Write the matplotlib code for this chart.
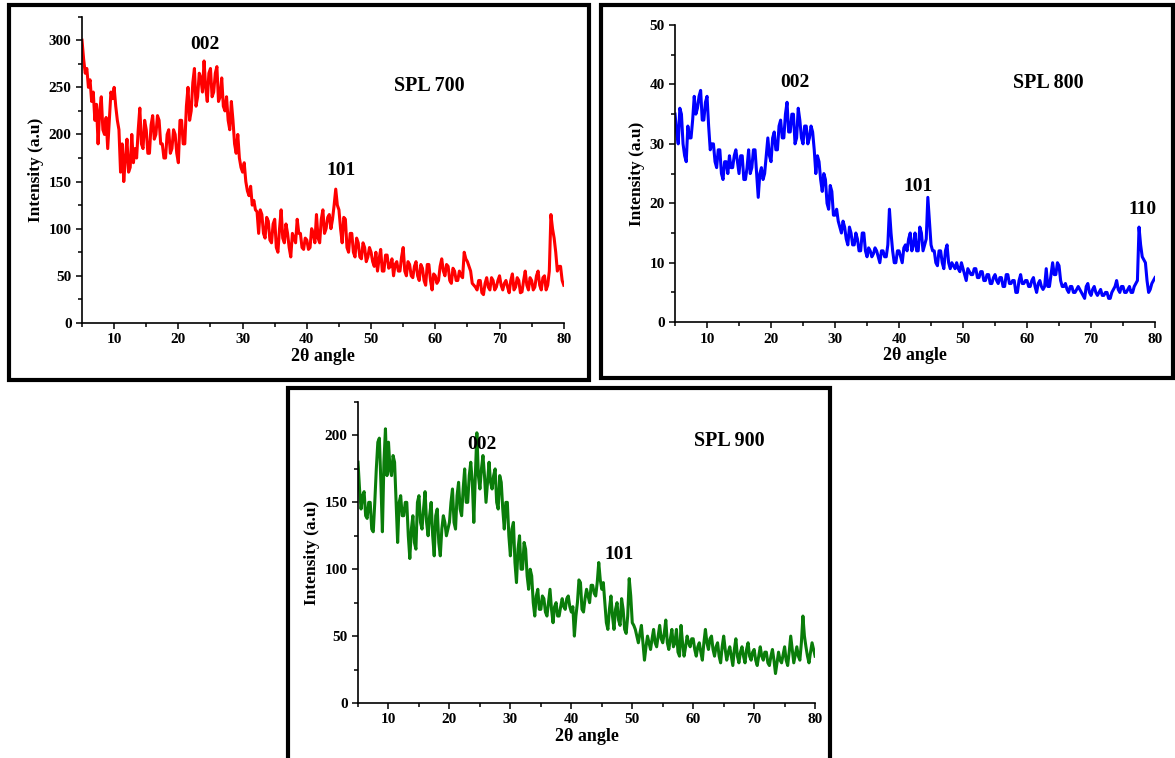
import numpy as np
import matplotlib
matplotlib.use("Agg")
import matplotlib.pyplot as plt
from matplotlib.patches import Rectangle
from matplotlib.ticker import MultipleLocator

plt.rcParams['font.family'] = ['Liberation Serif', 'DejaVu Serif']
plt.rcParams['font.weight'] = 'bold'

# intensidades lidas a cada 0.25 graus (5 -> 80), uma linha = 5 graus
spl700 = [300, 280, 265, 270, 250, 258, 235, 245, 215, 232, 190, 225, 240, 205, 200, 218, 185, 215, 245, 238,
          250, 230, 215, 205, 160, 190, 150, 175, 195, 160, 165, 200, 170, 185, 175, 205, 228, 190, 185, 215,
          205, 180, 180, 210, 220, 195, 200, 220, 215, 190, 190, 175, 175, 200, 205, 180, 185, 205, 200, 180,
          170, 215, 215, 190, 190, 230, 250, 215, 225, 255, 270, 230, 240, 265, 260, 245, 278, 250, 235, 265,
          270, 240, 245, 265, 272, 235, 240, 260, 230, 225, 240, 215, 205, 235, 215, 190, 180, 200, 175, 165,
          160, 170, 150, 140, 135, 145, 125, 130, 120, 118, 95, 120, 115, 95, 90, 112, 108, 88, 85, 105,
          110, 80, 75, 100, 120, 90, 85, 105, 95, 80, 70, 95, 90, 85, 110, 95, 95, 80, 78, 90,
          88, 78, 80, 100, 95, 85, 115, 90, 85, 110, 120, 95, 100, 112, 115, 100, 110, 125, 142, 125,
          120, 100, 85, 112, 110, 80, 75, 95, 95, 75, 70, 90, 85, 70, 68, 85, 80, 65, 70, 80,
          75, 65, 60, 75, 55, 68, 78, 55, 55, 72, 72, 58, 60, 68, 50, 62, 65, 55, 55, 70,
          80, 55, 50, 65, 62, 50, 48, 60, 65, 50, 45, 62, 58, 45, 40, 62, 62, 45, 35, 52,
          50, 42, 45, 60, 68, 55, 50, 62, 60, 45, 42, 58, 55, 45, 45, 55, 50, 48, 75, 68,
          65, 60, 55, 42, 40, 38, 35, 45, 45, 32, 30, 42, 48, 38, 35, 48, 45, 35, 38, 45,
          50, 40, 35, 42, 45, 38, 32, 45, 52, 35, 38, 48, 45, 32, 33, 45, 55, 40, 35, 48,
          45, 35, 38, 50, 55, 40, 35, 48, 50, 35, 40, 55, 115, 100, 90, 75, 55, 60, 60, 45,
          40]

spl800 = [35, 32, 30, 36, 35, 30, 28, 27, 33, 31, 31, 34, 38, 35, 36, 38, 39, 34, 34, 37,
          38, 33, 29, 30, 30, 27, 26, 29, 29, 25, 24, 27, 27, 25, 28, 26, 26, 28, 29, 27,
          25, 28, 28, 24, 24, 26, 29, 25, 26, 29, 29, 25, 21, 25, 26, 24, 25, 28, 31, 28,
          27, 31, 32, 29, 29, 33, 34, 31, 31, 35, 37, 32, 32, 35, 35, 30, 31, 36, 34, 31,
          30, 33, 33, 30, 31, 33, 32, 29, 25, 28, 27, 24, 22, 25, 24, 20, 19, 23, 22, 18,
          18, 19, 17, 16, 15, 17, 16, 14, 13, 16, 15, 13, 13, 15, 14, 12, 12, 15, 15, 12,
          11, 12.5, 12, 11, 11.5, 12.5, 12, 11, 10, 12, 12, 11, 11, 13, 19, 15, 12, 10, 10, 12,
          12, 11, 10, 12.5, 13, 12, 14, 15, 12, 13, 15, 12, 12, 16, 15, 12, 13, 14, 21, 17,
          13, 12, 12, 10, 9.5, 12, 12, 10, 9, 12, 13, 10, 9, 10, 9.5, 9, 10, 9, 8.5, 10,
          9, 8, 7, 9, 8.5, 8, 8, 9, 9, 7.5, 7.5, 8.5, 8.5, 7, 7, 8, 8, 6.5, 6.5, 7.5,
          8, 7, 6.5, 7.5, 7.5, 6, 6, 8, 8, 6.5, 6.5, 7, 7, 5, 5, 7, 8, 6.5, 6.5, 7,
          7, 6, 6, 7, 7.5, 6, 5, 6.5, 7, 6, 5.5, 6, 9, 6, 6, 8, 10, 8, 8, 10,
          9.5, 7, 6, 6, 6.5, 5.5, 5, 6, 6, 5, 5, 5.5, 6, 5.5, 5, 4.5, 4, 6, 6.5, 5,
          4.5, 5.5, 6, 5, 4.5, 5, 5.5, 4.5, 4.5, 5, 5, 4, 4, 5, 5.5, 6, 7, 5.5, 5, 6,
          6, 5, 5, 5.5, 6, 5, 5, 6, 6.5, 7, 16, 13, 11, 10.5, 10, 7, 5, 5.5, 6.5, 7,
          7.5]

spl900 = [180, 160, 145, 155, 158, 140, 138, 150, 150, 130, 128, 150, 175, 195, 198, 165, 128, 180, 205, 170,
          195, 175, 170, 185, 180, 150, 120, 150, 155, 140, 140, 150, 150, 125, 108, 130, 140, 120, 115, 150,
          155, 135, 130, 145, 158, 135, 125, 140, 150, 125, 110, 140, 145, 120, 110, 130, 140, 135, 125, 130,
          135, 150, 160, 135, 130, 155, 165, 145, 140, 160, 175, 150, 150, 170, 180, 165, 135, 170, 202, 170,
          160, 175, 185, 170, 150, 165, 180, 165, 160, 170, 175, 150, 145, 170, 165, 145, 130, 150, 150, 125,
          110, 130, 135, 105, 90, 115, 125, 100, 100, 120, 115, 95, 85, 100, 95, 75, 65, 80, 85, 70,
          70, 80, 78, 68, 65, 75, 85, 70, 60, 72, 75, 65, 65, 72, 78, 72, 70, 78, 80, 72,
          68, 72, 50, 65, 75, 92, 90, 70, 68, 78, 85, 80, 75, 88, 88, 82, 80, 90, 105, 92,
          85, 90, 75, 60, 55, 70, 80, 65, 55, 70, 75, 62, 58, 78, 70, 55, 52, 65, 93, 80,
          60, 58, 55, 50, 45, 52, 58, 45, 32, 42, 50, 45, 40, 48, 55, 45, 42, 50, 58, 48,
          45, 52, 62, 45, 40, 48, 55, 42, 45, 55, 38, 35, 58, 45, 35, 42, 50, 45, 42, 48,
          48, 40, 35, 42, 45, 38, 32, 45, 55, 45, 40, 48, 50, 40, 35, 42, 45, 35, 30, 42,
          50, 40, 32, 38, 42, 35, 28, 40, 48, 35, 30, 38, 42, 35, 30, 40, 45, 35, 32, 38,
          40, 32, 28, 35, 42, 35, 32, 38, 38, 30, 28, 35, 40, 32, 22, 30, 38, 32, 30, 36,
          42, 32, 28, 38, 50, 40, 30, 36, 42, 35, 32, 45, 65, 50, 42, 35, 30, 38, 45, 40,
          35]

paineis = [
    # (dados, cor, ylim, passo maior, passo menor, rotulo, anotacoes, pos. rotulo, eixo, moldura)
    (spl700, '#ff0000', 325, 50, 25, 'SPL 700',
     [('002', 24.1, 295), ('101', 45.3, 162)], (59.1, 251),
     [0.0698, 0.574, 0.410, 0.404], (0.0077, 0.4987, 0.4936, 0.4947)),
    (spl800, '#0000ff', 50, 10, 5, 'SPL 800',
     [('002', 23.75, 40.4), ('101', 43.0, 22.9), ('110', 78.0, 18.9)], (63.3, 40.2),
     [0.5745, 0.575, 0.4085, 0.392], (0.5115, 0.5013, 0.4868, 0.492)),
    (spl900, '#0a7d0a', 225, 50, 25, 'SPL 900',
     [('002', 25.3, 193.6), ('101', 47.8, 111)], (65.9, 196),
     [0.3047, 0.0726, 0.389, 0.397], (0.245, -0.01, 0.4613, 0.4984)),
]

fig = plt.figure(figsize=(11.75, 7.58), dpi=100)

for dados, cor, ymax, maior, menor, nome, picos, pos_nome, pos_eixo, moldura in paineis:
    fig.patches.append(Rectangle(moldura[:2], moldura[2], moldura[3], transform=fig.transFigure,
                                 fill=False, edgecolor='black', linewidth=3, zorder=0))
    ax = fig.add_axes(pos_eixo)
    x = np.linspace(5, 80, len(dados))
    ax.plot(x, dados, color=cor, linewidth=2.2)
    ax.set_xlim(5, 80)
    ax.set_ylim(0, ymax)
    ax.spines['top'].set_visible(False)
    ax.spines['right'].set_visible(False)
    ax.spines['left'].set_linewidth(1.2)
    ax.spines['bottom'].set_linewidth(1.2)
    ax.xaxis.set_major_locator(MultipleLocator(10))
    ax.xaxis.set_minor_locator(MultipleLocator(5))
    ax.yaxis.set_major_locator(MultipleLocator(maior))
    ax.yaxis.set_minor_locator(MultipleLocator(menor))
    ax.tick_params(which='both', direction='out', width=1.1, labelsize=11)
    ax.tick_params(which='major', length=4)
    ax.tick_params(which='minor', length=3)
    ax.set_xticks([10, 20, 30, 40, 50, 60, 70, 80])
    ax.set_xlabel('2θ angle', fontsize=13, fontweight='bold', labelpad=1)
    ax.set_ylabel('Intensity (a.u)', fontsize=12.5, fontweight='bold', labelpad=3)
    for rot, px, py in picos:
        ax.text(px, py, rot, ha='center', va='center', fontsize=14, fontweight='bold')
    ax.text(pos_nome[0], pos_nome[1], nome, ha='center', va='center', fontsize=14.5, fontweight='bold')

fig.savefig('out.png', dpi=100)
